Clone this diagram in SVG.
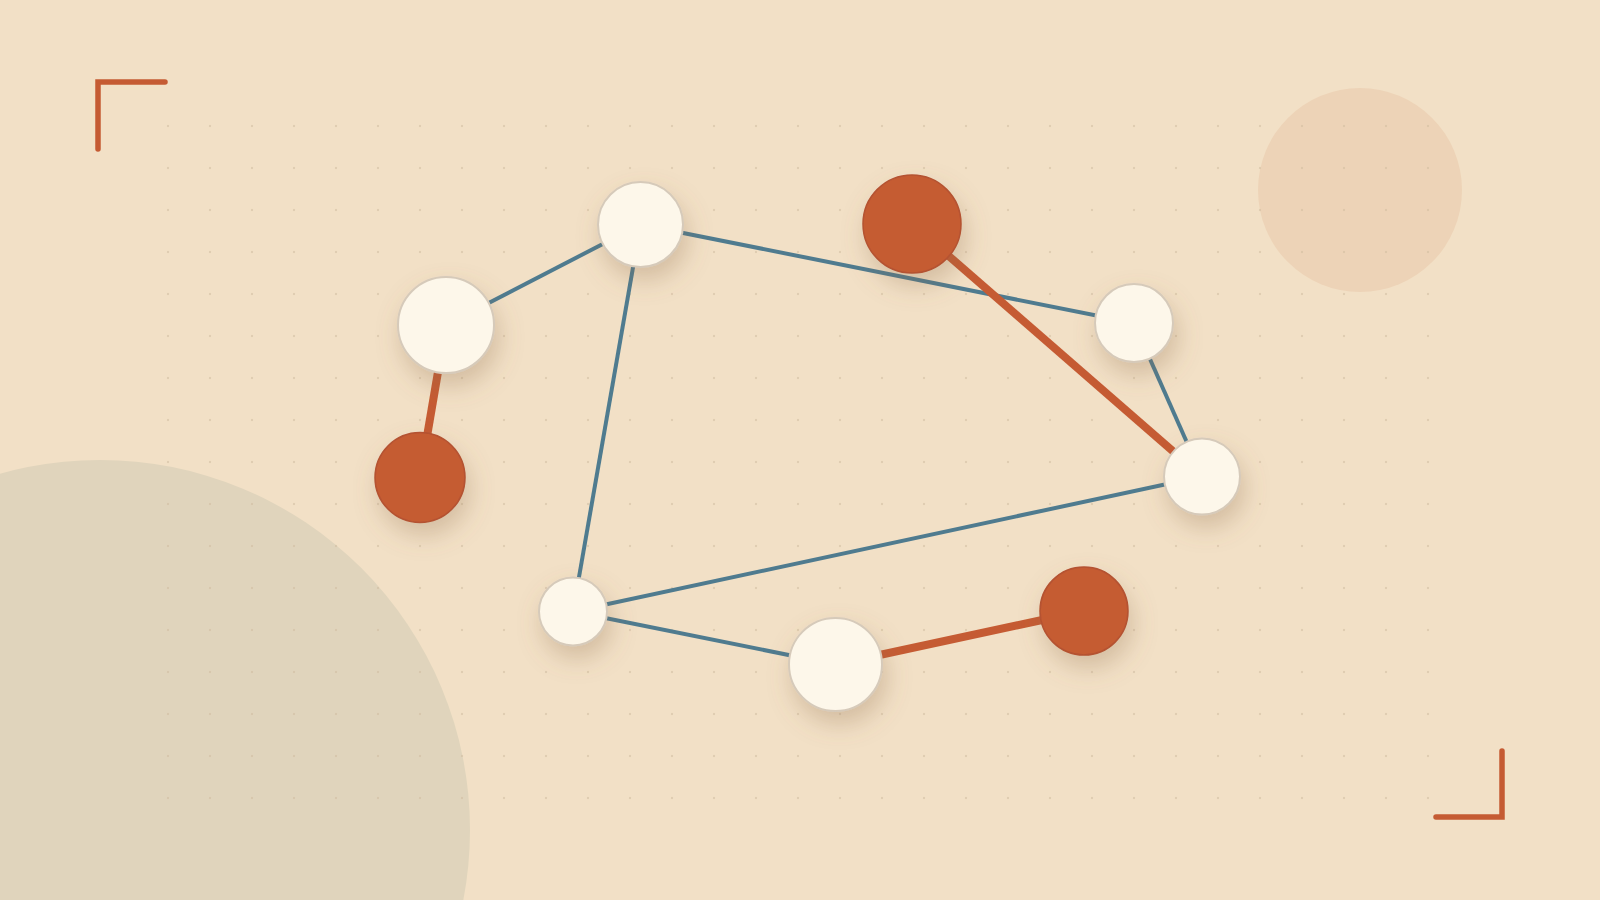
<svg xmlns="http://www.w3.org/2000/svg" width="1600" height="900" viewBox="0 0 1600 900">
  <style>
    .edge-blue { stroke: #4F7B8F; stroke-width: 4; stroke-linecap: butt; fill: none; }
    .edge-orange { stroke: #C55B33; stroke-width: 8; stroke-linecap: butt; fill: none; }
    .node-light { fill: #FDF7EA; stroke: #D6CABA; stroke-width: 2; }
    .node-accent { fill: #C55B33; stroke: #B45230; stroke-width: 1.5; }
    .bracket { stroke: #C55B33; stroke-width: 5.5; fill: none; stroke-linecap: round; stroke-linejoin: miter; }
  </style>
  <defs>
    <pattern id="dots" x="147" y="105" width="42" height="42" patternUnits="userSpaceOnUse">
      <circle cx="21" cy="21" r="1.2" fill="#CDB99E" fill-opacity="0.5"/>
    </pattern>
    <filter id="shadow" x="-60%" y="-60%" width="220%" height="220%">
      <feDropShadow dx="4" dy="12" stdDeviation="12" flood-color="#8A6A45" flood-opacity="0.3"/>
    </filter>
  </defs>

  <g id="background">
    <rect width="1600" height="900" fill="#F2E0C6"/>
    <circle cx="100" cy="830" r="370" fill="#E0D4BC"/>
    <circle cx="1360" cy="190" r="102" fill="#EDD3B7"/>
    <rect x="147" y="105" width="1302" height="714" fill="url(#dots)"/>
    <path class="bracket" d="M98,149 V82 H165"/>
    <path class="bracket" d="M1436,817 H1502 V751"/>
  </g>

  <g id="connectors">
    <line class="edge-blue" x1="640.5" y1="224.5" x2="446" y2="325"/>
    <line class="edge-blue" x1="640.5" y1="224.5" x2="573" y2="611.5"/>
    <line class="edge-blue" x1="640.5" y1="224.5" x2="1134" y2="323"/>
    <line class="edge-blue" x1="1134" y1="323" x2="1202" y2="476.5"/>
    <line class="edge-blue" x1="1202" y1="476.5" x2="573" y2="611.5"/>
    <line class="edge-blue" x1="573" y1="611.5" x2="835.5" y2="664.5"/>
    <line class="edge-orange" x1="446" y1="325" x2="420" y2="477.5"/>
    <line class="edge-orange" x1="912" y1="224" x2="1202" y2="476.5"/>
    <line class="edge-orange" x1="835.5" y1="664.5" x2="1084" y2="611"/>
  </g>

  <g id="node-a" filter="url(#shadow)"><circle class="node-light" cx="640.5" cy="224.5" r="42.5"/></g>
  <g id="node-b" filter="url(#shadow)"><circle class="node-light" cx="446" cy="325" r="48"/></g>
  <g id="node-c" filter="url(#shadow)"><circle class="node-accent" cx="420" cy="477.5" r="45"/></g>
  <g id="node-d" filter="url(#shadow)"><circle class="node-accent" cx="912" cy="224" r="49"/></g>
  <g id="node-e" filter="url(#shadow)"><circle class="node-light" cx="1134" cy="323" r="39"/></g>
  <g id="node-f" filter="url(#shadow)"><circle class="node-light" cx="1202" cy="476.5" r="38"/></g>
  <g id="node-g" filter="url(#shadow)"><circle class="node-light" cx="573" cy="611.5" r="34"/></g>
  <g id="node-h" filter="url(#shadow)"><circle class="node-light" cx="835.5" cy="664.5" r="46.5"/></g>
  <g id="node-i" filter="url(#shadow)"><circle class="node-accent" cx="1084" cy="611" r="44"/></g>
</svg>
